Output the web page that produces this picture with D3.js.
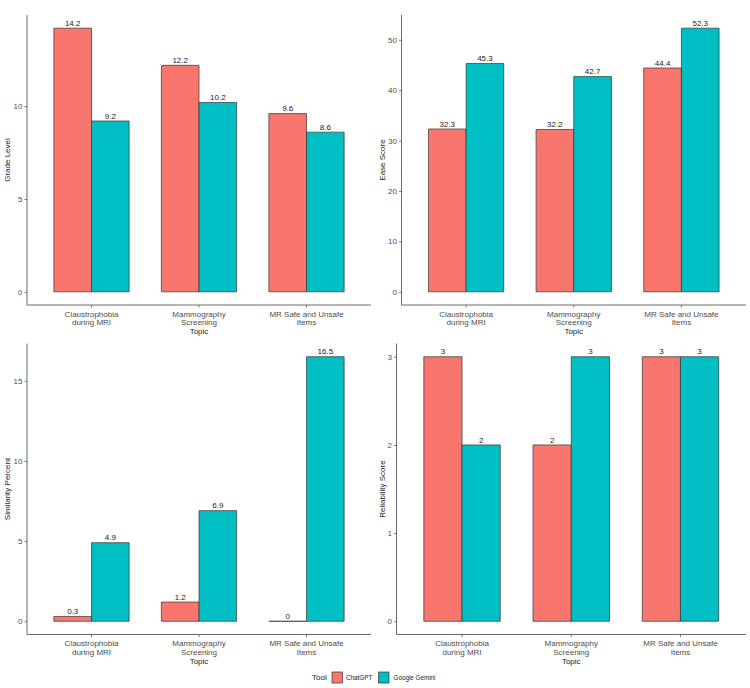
<!DOCTYPE html>
<html>
<head>
<meta charset="utf-8">
<script src="https://cdn.jsdelivr.net/npm/d3@7"></script>
<style>
  body { margin: 0; background: #fff; }
  svg { display: block; font-family: "Liberation Sans", Arial, sans-serif; }
</style>
</head>
<body>
<svg id="chart" width="750" height="688"></svg>
<script>
// ---- data ----
const categories = ["Claustrophobia\nduring MRI", "Mammography\nScreening", "MR Safe and Unsafe\nItems"];
const tools = ["ChatGPT", "Google Gemini"];
const toolColors = ["#F8766D", "#00BFC4"];

const gradeChatGPT = [14.2, 12.2, 9.6];
const gradeGemini = [9.2, 10.2, 8.6];
const gradeTicks = [0, 5, 10];

const easeChatGPT = [32.3, 32.2, 44.4];
const easeGemini = [45.3, 42.7, 52.3];
const easeTicks = [0, 10, 20, 30, 40, 50];

const simChatGPT = [0.3, 1.2, 0];
const simGemini = [4.9, 6.9, 16.5];
const simTicks = [0, 5, 10, 15];

const relChatGPT = [3, 2, 3];
const relGemini = [2, 3, 3];
const relTicks = [0, 1, 2, 3];

const xTitle = "Topic";
const legendTitle = "Tool";

// ---- drawing ----
const FONT = "Liberation Sans, Arial, sans-serif";
const svg = d3.select("#chart");
const color = d3.scaleOrdinal().domain(tools).range(toolColors);

function panel(cfg) {
  const {x0, x1, y0, y1, a, b, ticks, yTitle, yTitleX} = cfg;
  const g = svg.append("g");
  const maxV = d3.max(a.concat(b));
  const y = d3.scaleLinear().domain([-0.05 * maxV, 1.05 * maxV]).range([y1, y0]);
  const x = d3.scaleBand().domain(categories).range([x0, x1]).paddingInner(0.3).paddingOuter(0.25);
  const xs = d3.scaleBand().domain(tools).range([0, x.bandwidth()]).padding(0);

  const rows = [];
  categories.forEach((c, i) => {
    rows.push({cat: c, tool: tools[0], v: a[i]});
    rows.push({cat: c, tool: tools[1], v: b[i]});
  });

  g.selectAll("path.bar").data(rows).enter().append("path")
    .attr("class", "bar")
    .attr("d", d => {
      const bx = x(d.cat) + xs(d.tool), w = xs.bandwidth();
      const top = y(d.v), bot = y(0);
      return `M${bx},${bot}V${top}H${bx + w}V${bot}Z`;
    })
    .attr("fill", d => color(d.tool))
    .attr("stroke", "#333")
    .attr("stroke-width", 0.7);

  g.selectAll("text.val").data(rows).enter().append("text")
    .attr("class", "val")
    .attr("x", d => x(d.cat) + xs(d.tool) + xs.bandwidth() / 2)
    .attr("y", d => y(d.v) - 2.3)
    .attr("text-anchor", "middle")
    .attr("font-size", 8)
    .attr("font-family", FONT)
    .attr("fill", "#222")
    .text(d => d.v);

  // y axis
  const yAxis = d3.axisLeft(y).tickValues(ticks).tickSize(2.5).tickPadding(2).tickFormat(d3.format("d"));
  const ya = g.append("g").attr("transform", `translate(${x0},0)`).call(yAxis)
    .attr("font-family", FONT).attr("font-size", 8);
  ya.select(".domain").attr("stroke", "#444").attr("stroke-width", 0.8).attr("d", `M0,${y0}V${y1}`);
  ya.selectAll(".tick line").attr("stroke", "#444").attr("stroke-width", 0.7);
  ya.selectAll(".tick text").attr("fill", "#4D4D4D");

  // x axis
  const xAxis = d3.axisBottom(x).tickSize(2.5).tickPadding(2).tickFormat("");
  const xa = g.append("g").attr("transform", `translate(0,${y1})`).call(xAxis)
    .attr("font-family", FONT).attr("font-size", 8);
  xa.select(".domain").attr("stroke", "#444").attr("stroke-width", 0.8).attr("d", `M${x0},0H${x1}`);
  xa.selectAll(".tick line").attr("stroke", "#444").attr("stroke-width", 0.7);
  xa.selectAll(".tick").each(function(d) {
    const t = d3.select(this).append("text")
      .attr("text-anchor", "middle")
      .attr("fill", "#4D4D4D");
    d.split("\n").forEach((line, i) => {
      t.append("tspan").attr("x", 0).attr("y", 11.5 + i * 8.7).text(line);
    });
  });

  g.append("text")
    .attr("x", (x0 + x1) / 2)
    .attr("y", y1 + 29)
    .attr("text-anchor", "middle")
    .attr("font-size", 8)
    .attr("font-family", FONT)
    .attr("fill", "#222")
    .text(xTitle);

  g.append("text")
    .attr("transform", `translate(${yTitleX},${(y0 + y1) / 2}) rotate(-90)`)
    .attr("text-anchor", "middle")
    .attr("font-size", 8)
    .attr("font-family", FONT)
    .attr("fill", "#222")
    .text(yTitle);
}

panel({x0: 27, x1: 371, y0: 15, y1: 305, a: gradeChatGPT, b: gradeGemini, ticks: gradeTicks, yTitle: "Grade Level", yTitleX: 10});
panel({x0: 401.5, x1: 746, y0: 15, y1: 305, a: easeChatGPT, b: easeGemini, ticks: easeTicks, yTitle: "Ease Score", yTitleX: 385});
panel({x0: 27, x1: 371, y0: 343.5, y1: 634.5, a: simChatGPT, b: simGemini, ticks: simTicks, yTitle: "Similarity Percent", yTitleX: 10});
panel({x0: 396.5, x1: 746, y0: 343.5, y1: 634.5, a: relChatGPT, b: relGemini, ticks: relTicks, yTitle: "Reliability Score", yTitleX: 385});

// legend
const lg = svg.append("g").attr("font-family", FONT);
lg.append("text").attr("x", 312).attr("y", 680).attr("font-size", 8).attr("fill", "#222").text(legendTitle);
const items = [{t: tools[0], x: 332, tx: 346}, {t: tools[1], x: 378.5, tx: 393.5}];
items.forEach(it => {
  lg.append("rect").attr("x", it.x).attr("y", 672).attr("width", 10.5).attr("height", 11)
    .attr("fill", color(it.t)).attr("stroke", "#333").attr("stroke-width", 0.7);
  lg.append("text").attr("x", it.tx).attr("y", 679.8).attr("font-size", 6.3).attr("fill", "#222").text(it.t);
});
</script>
</body>
</html>
